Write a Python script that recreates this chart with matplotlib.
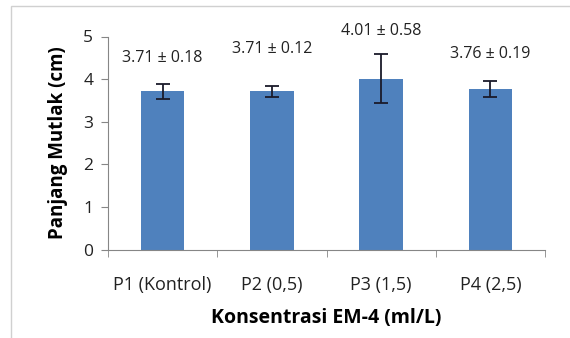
import numpy as np
import matplotlib.pyplot as plt
from matplotlib.patches import Rectangle

plt.rcParams['font.family'] = ['Open Sans', 'DejaVu Sans']

kategori = ["P1 (Kontrol)", "P2 (0,5)", "P3 (1,5)", "P4 (2,5)"]
rata = [3.71, 3.71, 4.01, 3.76]
sd = [0.18, 0.12, 0.58, 0.19]
label = ["3.71 ± 0.18", "3.71 ± 0.12", "4.01 ± 0.58", "3.76 ± 0.19"]
tinggi_label = [4.49, 4.70, 5.13, 4.59]  # posisi teks di atas batang

fig = plt.figure(figsize=(5.70, 3.38), dpi=100)
ax = fig.add_axes([108/570, 1 - 249.5/338, 437/570, 213/338])

x = np.arange(len(kategori))
ax.bar(x, rata, width=0.4, color="#4F81BD", zorder=2)
ax.errorbar(x, rata, yerr=sd, fmt="none", ecolor="#1a1a2a", elinewidth=1.3,
            capsize=5, capthick=1.3, zorder=3)

for i in range(len(x)):
    ax.text(x[i], tinggi_label[i], label[i], ha="center", va="center",
            fontsize=11.5, color="#222222", clip_on=False)

ax.set_xlim(-0.5, 3.5)
ax.set_ylim(0, 5)
ax.set_yticks([0, 1, 2, 3, 4, 5])
ax.set_xticks(x)
ax.set_xticklabels(kategori)
ax.set_xticks([-0.5, 0.5, 1.5, 2.5, 3.5], minor=True)
ax.tick_params(axis="x", which="major", length=0, pad=19, labelsize=13, labelcolor="#222222")
ax.tick_params(axis="x", which="minor", length=4.7, color="#868686", direction="out")
ax.tick_params(axis="y", length=4.7, pad=6, color="#868686", labelsize=12.5, labelcolor="#222222")

for s in ["top", "right"]:
    ax.spines[s].set_visible(False)
ax.spines["left"].set_color("#868686")
ax.spines["bottom"].set_color("#868686")

ax.set_ylabel("Panjang Mutlak (cm)", fontsize=13.5, fontweight="bold", labelpad=11)
ax.set_xlabel("Konsentrasi EM-4 (ml/L)", fontsize=14, fontweight="bold", labelpad=10)

# bingkai chart
fig.patches.append(Rectangle((11/570, -0.1), 1.1, 1 - 5.5/338 + 0.1, transform=fig.transFigure,
                             fill=False, edgecolor="#d0d0d0", linewidth=1))

plt.savefig("out.png", dpi=100)
